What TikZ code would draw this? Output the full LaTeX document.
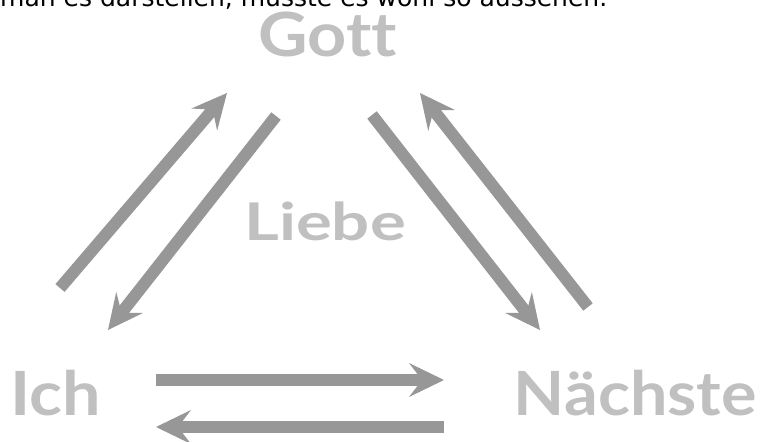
\documentclass[tikz,border=0pt]{standalone}
\usepackage{fontspec}
\usepackage{graphicx}
\setmainfont[Ligatures=NoCommon]{Lato}
\newfontfamily\topfont{DejaVu Sans}
\usetikzlibrary{arrows.meta}
\definecolor{arrowgray}{HTML}{979797}
\definecolor{textgray}{HTML}{C0C0C0}
\begin{document}
\begin{tikzpicture}[x=1pt,y=-1pt,
  lbl/.style={text=textgray, font=\bfseries\fontsize{61}{61}\selectfont, inner sep=0pt, anchor=base},
  conn/.style={draw=arrowgray, line width=12pt,
    -{Stealth[length=35pt,width=34pt,inset=13pt,line width=0pt]}}]
\useasboundingbox (0,0) rectangle (761,442);
\node[anchor=base west, font=\topfont\fontsize{22}{22}\selectfont, inner sep=0pt] (top) at (0,6.5) {\resizebox{607pt}{!}{man es darstellen, müsste es wohl so aussehen.}};
\node[lbl] (gott) at (327.5,56) {\scalebox{1.12}[1]{Gott}};
\node[lbl, font=\bfseries\fontsize{52}{52}\selectfont] (liebe) at (325,240) {\scalebox{1.29}[1]{Liebe}};
\node[lbl, anchor=base west] (ich) at (10,415) {\scalebox{1.12}[1]{Ich}};
\node[lbl, anchor=base east] (naechste) at (757,415) {\scalebox{1.09}[1]{Nächste}};
% arrow end points
\coordinate (a1s) at (60,288);  \coordinate (a1e) at (227,93);
\coordinate (a2s) at (276,116); \coordinate (a2e) at (108,330);
\coordinate (a3s) at (372,115); \coordinate (a3e) at (540,330);
\coordinate (a4s) at (588,307); \coordinate (a4e) at (420,93);
\coordinate (a5s) at (156,380); \coordinate (a5e) at (444,380);
\coordinate (a6s) at (444,427); \coordinate (a6e) at (156,427);
\draw[conn] (a1s) -- (a1e);
\draw[conn] (a2s) -- (a2e);
\draw[conn] (a3s) -- (a3e);
\draw[conn] (a4s) -- (a4e);
\draw[conn] (a5s) -- (a5e);
\draw[conn] (a6s) -- (a6e);
\end{tikzpicture}
\end{document}
